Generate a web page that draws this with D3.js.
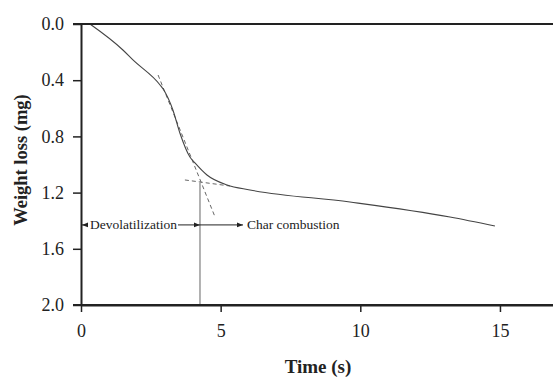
<!DOCTYPE html>
<html>
<head>
<meta charset="utf-8">
<script src="https://cdn.jsdelivr.net/npm/d3@7"></script>
<style>
  html, body { margin: 0; padding: 0; background: #fff; }
  svg { display: block; }
  text { font-family: "Liberation Serif", "Times New Roman", serif; fill: #222; }
</style>
</head>
<body>
<svg id="chart" width="553" height="378"></svg>
<script>
// Weight-loss curve (time in s, weight loss in mg)
const timeValues   = [0.32, 1.50, 1.86, 2.83, 2.94, 3.29, 3.54, 3.90, 4.08, 4.51, 5.23, 6.05, 9.63, 13.21, 14.82];
const weightValues = [0.00, 0.185, 0.256, 0.434, 0.463, 0.612, 0.776, 0.947, 0.989, 1.075, 1.146, 1.181, 1.267, 1.374, 1.438];

// Tangent (dashed) lines: [t1, w1, t2, w2]
const tangentSteep   = [2.76, 0.363, 4.80, 1.374];
const tangentShallow = [3.72, 1.110, 5.33, 1.153];

// Transition marker
const transitionTime = 4.26;
const transitionTop  = 1.13;
const arrowLevel     = 1.43;
const charArrowEnd   = 5.80;

const xTicks = [0, 5, 10, 15];
const yTicks = [0.0, 0.4, 0.8, 1.2, 1.6, 2.0];
const xLabel = "Time (s)";
const yLabel = "Weight loss (mg)";
const labelDevol = "Devolatilization";
const labelChar  = "Char combustion";

const svg = d3.select("#chart");
const x = d3.scaleLinear().domain([0, 17]).range([81, 81 + 17 * 27.93]);
const y = d3.scaleLinear().domain([0, 2]).range([24, 305]);

const defs = svg.append("defs");
defs.append("marker").attr("id", "arrow")
  .attr("viewBox", "0 0 10 10").attr("refX", 10).attr("refY", 5)
  .attr("markerWidth", 6).attr("markerHeight", 6).attr("markerUnits", "userSpaceOnUse")
  .attr("orient", "auto-start-reverse")
  .append("path").attr("d", "M0,1 L10,5 L0,9 Z").attr("fill", "#222");

// Vertical transition line
svg.append("line")
  .attr("x1", x(transitionTime)).attr("x2", x(transitionTime))
  .attr("y1", y(transitionTop)).attr("y2", y(2))
  .attr("stroke", "#999").attr("stroke-width", 1.5);

// Tangent lines
[tangentSteep, tangentShallow].forEach(t => {
  svg.append("line")
    .attr("x1", x(t[0])).attr("y1", y(t[1]))
    .attr("x2", x(t[2])).attr("y2", y(t[3]))
    .attr("stroke", "#555").attr("stroke-width", 0.9)
    .attr("stroke-dasharray", "4,3");
});

// Curve
const pts = timeValues.map((t, i) => [t, weightValues[i]]);
svg.append("path")
  .datum(pts)
  .attr("fill", "none").attr("stroke", "#444").attr("stroke-width", 1.1)
  .attr("d", d3.line().x(d => x(d[0])).y(d => y(d[1])).curve(d3.curveMonotoneX));

// Annotation arrows
const ay = y(arrowLevel);
const devText = svg.append("text")
  .attr("x", (x(0) + 9)).attr("y", ay).attr("dy", "0.33em")
  .attr("font-size", 13.5).text(labelDevol);
const devW = devText.node().getComputedTextLength();
svg.append("line").attr("x1", x(0) + 7).attr("x2", x(0) + 1).attr("y1", ay).attr("y2", ay)
  .attr("stroke", "#222").attr("stroke-width", 1).attr("marker-end", "url(#arrow)");
svg.append("line").attr("x1", x(0) + 9 + devW + 1).attr("x2", x(transitionTime)).attr("y1", ay).attr("y2", ay)
  .attr("stroke", "#222").attr("stroke-width", 1).attr("marker-end", "url(#arrow)");
svg.append("line").attr("x1", x(transitionTime)).attr("x2", x(charArrowEnd)).attr("y1", ay).attr("y2", ay)
  .attr("stroke", "#222").attr("stroke-width", 1).attr("marker-end", "url(#arrow)");
svg.append("text")
  .attr("x", x(charArrowEnd) + 4).attr("y", ay).attr("dy", "0.33em")
  .attr("font-size", 13.5).text(labelChar);

// Axes
const xAxis = svg.append("g").attr("transform", `translate(0,${y(2)})`)
  .call(d3.axisBottom(x).tickValues(xTicks).tickSize(7).tickSizeOuter(0).tickPadding(12));
const yAxis = svg.append("g").attr("transform", `translate(${x(0)},0)`)
  .call(d3.axisLeft(y).tickValues(yTicks).tickFormat(d3.format(".1f")).tickSize(8).tickSizeOuter(0).tickPadding(9));
[xAxis, yAxis].forEach(g => {
  g.select(".domain").attr("stroke", "#222").attr("stroke-width", 2);
  g.selectAll(".tick line").attr("stroke", "#222").attr("stroke-width", 1.5);
  g.selectAll(".tick text").attr("font-size", 18).attr("fill", "#222")
    .attr("font-family", "Liberation Serif, serif");
});
// Top frame line
svg.append("line").attr("x1", x(0) - 8).attr("x2", 553).attr("y1", y(0)).attr("y2", y(0))
  .attr("stroke", "#222").attr("stroke-width", 2);
// extend bottom axis to edge
svg.append("line").attr("x1", x(0) - 8).attr("x2", 553).attr("y1", y(2)).attr("y2", y(2))
  .attr("stroke", "#222").attr("stroke-width", 2);

// Axis titles
svg.append("text").attr("x", 318).attr("y", 373).attr("text-anchor", "middle")
  .attr("font-size", 19).attr("font-weight", "bold").text(xLabel);
svg.append("text").attr("transform", "translate(27,160) rotate(-90)")
  .attr("text-anchor", "middle").attr("font-size", 18.5).attr("font-weight", "bold").text(yLabel);
</script>
</body>
</html>
